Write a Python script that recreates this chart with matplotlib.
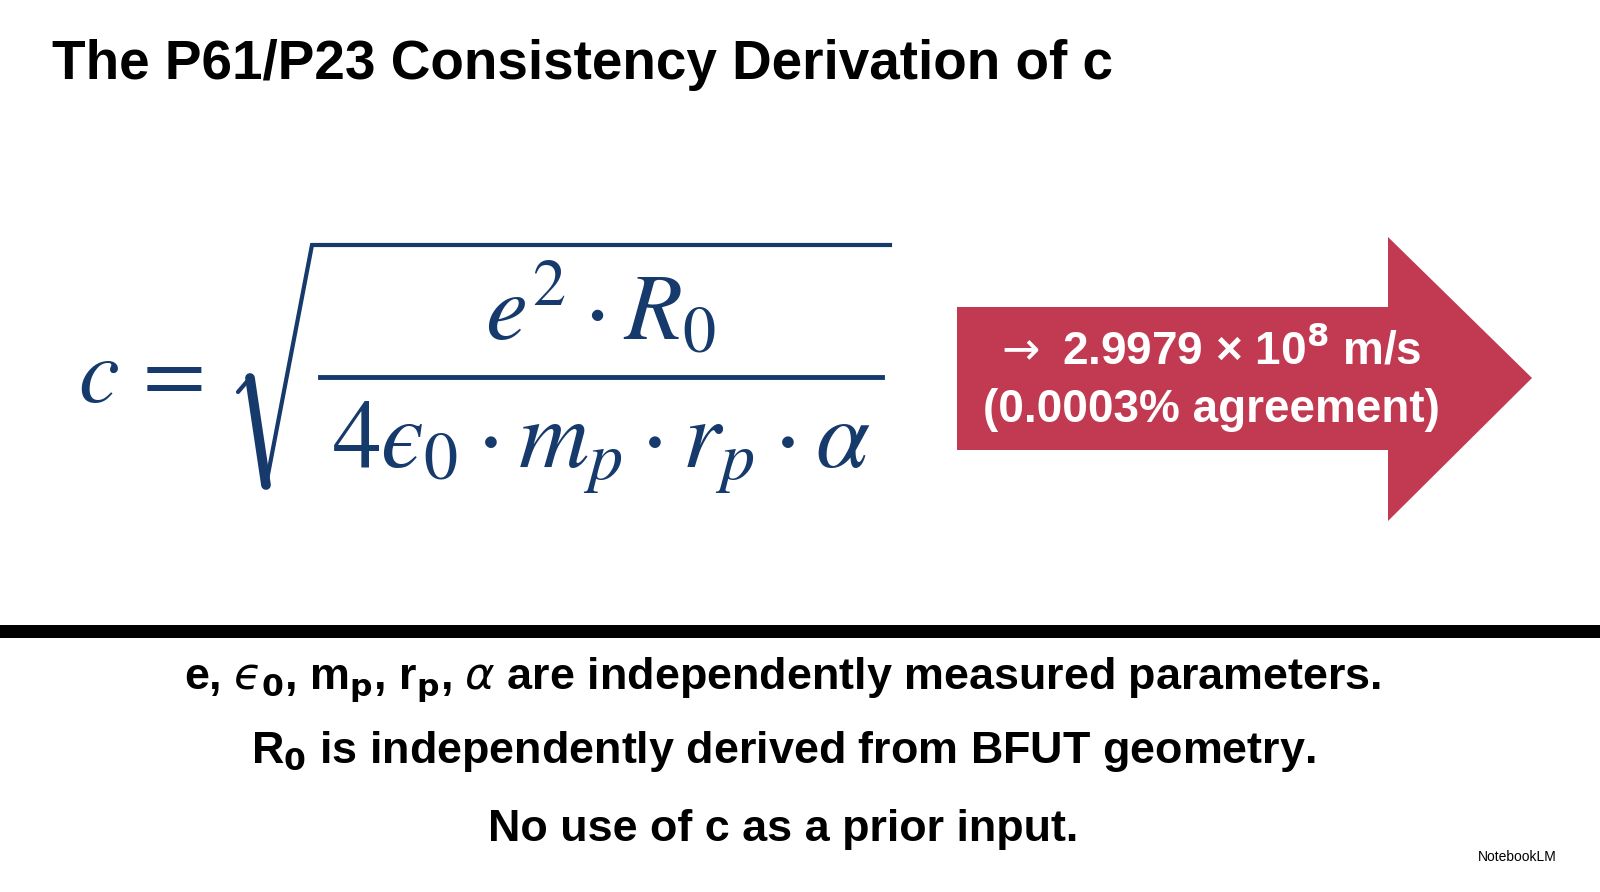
import matplotlib
matplotlib.use("Agg")
import matplotlib.pyplot as plt
from matplotlib.patches import Polygon, Rectangle

plt.rcParams["font.family"] = ["Liberation Sans", "DejaVu Sans"]
plt.rcParams["mathtext.fontset"] = "dejavusans"

NAVY = "#163a6c"
RED = "#c13a52"

title = "The P61/P23 Consistency Derivation of c"
result_lines = [r"$\rightarrow$ 2.9979 × 10$^\mathbf{8}$ m/s", "(0.0003% agreement)"]
notes = [
    "e, $\u03f5_\\mathbf{0}$, m$_\\mathbf{p}$, r$_\\mathbf{p}$, $\\alpha$ are independently measured parameters.",
    r"R$_\mathbf{0}$ is independently derived from BFUT geometry.",
    "No use of c as a prior input.",
]

fig = plt.figure(figsize=(16, 8.92), dpi=100)
ax = fig.add_axes([0, 0, 1, 1])
ax.set_xlim(0, 1600)
ax.set_ylim(892, 0)
ax.axis("off")

ax.text(52, 65, title, fontsize=39.5, fontweight="bold", va="center", ha="left")

# formula
serif = dict(color=NAVY, math_fontfamily="stix", va="center")
ax.text(78, 378, r"$c\,=$", fontsize=66, ha="left", **serif)
ax.text(600, 312, r"$e^2\cdot R_0$", fontsize=68, ha="center", **serif)
ax.text(601, 448, "$4\u03f5_0\\cdot m_p\\cdot r_p\\cdot \\alpha$", fontsize=70, ha="center", **serif)
ax.plot([320, 882], [377, 377], color=NAVY, lw=3.5)
ax.plot([238, 250], [392, 378], color=NAVY, lw=3, solid_capstyle="round")
ax.plot([250, 266], [378, 485], color=NAVY, lw=7, solid_capstyle="round")
ax.plot([266, 312, 890], [485, 245, 245], color=NAVY, lw=3, solid_joinstyle="miter")

# arrow
ax.add_patch(Polygon([(957, 307), (1388, 307), (1388, 237), (1532, 378),
                      (1388, 521), (1388, 450), (957, 450)], closed=True, color=RED, lw=0))
ax.text(1207, 350, result_lines[0], fontsize=33, fontweight="bold", color="white", ha="center", va="center")
ax.text(1211, 410, result_lines[1], fontsize=33, fontweight="bold", color="white", ha="center", va="center")

# separator
ax.add_patch(Rectangle((0, 625), 1600, 13, color="black", lw=0))

for y, s in zip([680, 752, 830], notes):
    ax.text(783, y, s, fontsize=32.3, fontweight="bold", ha="center", va="center")

ax.text(1478, 857, "NotebookLM", fontsize=10, ha="left", va="center")

fig.savefig("out.png", dpi=100)
